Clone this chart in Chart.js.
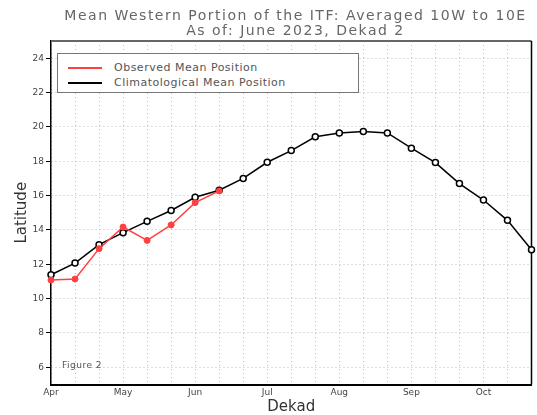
<!DOCTYPE html>
<html lang="en">
  <head>
    <meta charset="UTF-8">
    <title>ITF Western Portion</title>
    <style>
      body { margin: 0; background: #fff; }
      #wrap { position: relative; width: 537px; height: 415px; font-family: "DejaVu Sans", sans-serif; }
      canvas { position: absolute; left: 0; top: 0; }
      .title { position: absolute; left: 52px; width: 487px; text-align: center; color: #666; font-size: 14px; letter-spacing: 1.5px; line-height: 14px; white-space: nowrap; }
      #legend { position: absolute; left: 57px; top: 53px; width: 300px; height: 38px; border: 1px solid #777; background: #fff; z-index: 2; }
      .row { position: absolute; left: 0; height: 14px; font-size: 11px; color: #555; letter-spacing: 0.5px; line-height: 14px; white-space: nowrap; }
      .row span.sw { position: absolute; left: 10px; top: 6px; width: 34px; height: 2px; }
      .row span.tx { position: absolute; left: 56px; top: 0; }
      #fig { position: absolute; left: 62px; top: 360px; font-size: 9px; color: #555; letter-spacing: 0.5px; z-index: 2; }
    </style>
  </head>
  <body>
    <div id="wrap">
      <canvas id="myChart" width="537" height="415"></canvas>
      <div class="title" style="top:8px">Mean Western Portion of the ITF: Averaged 10W to 10E</div>
      <div class="title" style="top:23px">As of: June 2023, Dekad 2</div>
      <div id="legend"></div>
      <div id="fig">Figure 2</div>
    </div>

    <script src="https://cdn.jsdelivr.net/npm/chart.js"></script>
    <script>
      const dekads = [
        "Apr 1", "Apr 2", "Apr 3", "May 1", "May 2", "May 3", "Jun 1", "Jun 2", "Jun 3",
        "Jul 1", "Jul 2", "Jul 3", "Aug 1", "Aug 2", "Aug 3", "Sep 1", "Sep 2", "Sep 3",
        "Oct 1", "Oct 2", "Oct 3"
      ];
      const monthLabels = ["Apr", "May", "Jun", "Jul", "Aug", "Sep", "Oct"];
      const yTicks = [6, 8, 10, 12, 14, 16, 18, 20, 22, 24];

      const observed = [11.08, 11.14, 12.91, 14.17, 13.39, 14.29, 15.59, 16.27];
      const climatology = [
        11.39, 12.07, 13.14, 13.84, 14.5, 15.13, 15.9, 16.31, 17.0, 17.94, 18.62,
        19.42, 19.65, 19.73, 19.65, 18.76, 17.92, 16.7, 15.74, 14.56, 12.85
      ];

      const RED = "#ff4040";

      // top + right frame lines
      const framePlugin = {
        id: "frame",
        beforeDatasetsDraw(chart) {
          const { ctx, chartArea: a } = chart;
          ctx.save();
          ctx.lineWidth = 2;
          ctx.strokeStyle = "#666";
          ctx.beginPath();
          ctx.moveTo(a.left, a.top);
          ctx.lineTo(a.right, a.top);
          ctx.stroke();
          ctx.lineWidth = 1.5;
          ctx.strokeStyle = "#000";
          ctx.beginPath();
          ctx.moveTo(a.right, a.top);
          ctx.lineTo(a.right, a.bottom);
          ctx.stroke();
          ctx.restore();
        }
      };

      const chart = new Chart(document.getElementById("myChart"), {
        type: "line",
        data: {
          labels: dekads,
          datasets: [
            {
              label: "Observed Mean Position",
              data: observed,
              borderColor: RED,
              backgroundColor: RED,
              borderWidth: 1.5,
              pointRadius: 3,
              pointBorderWidth: 1,
              tension: 0,
              clip: false
            },
            {
              label: "Climatological Mean Position",
              data: climatology,
              borderColor: "#000",
              backgroundColor: "#fff",
              borderWidth: 1.5,
              pointRadius: 3,
              pointBorderWidth: 1.5,
              tension: 0,
              clip: false
            }
          ]
        },
        options: {
          responsive: false,
          animation: false,
          layout: { padding: { top: 41, right: 1, left: 0, bottom: 0 } },
          font: { family: "DejaVu Sans" },
          plugins: { legend: { display: false }, tooltip: { enabled: false } },
          scales: {
            x: {
              type: "category",
              offset: false,
              grid: { color: "#bdbdbd", drawTicks: false },
              border: { color: "#000", width: 2, dash: [1, 3] },
              ticks: {
                autoSkip: false,
                maxRotation: 0,
                padding: 3,
                color: "#444",
                font: { size: 9, family: "DejaVu Sans" },
                callback: function (value, index) {
                  return index % 3 === 0 ? monthLabels[index / 3] : "";
                }
              },
              title: {
                display: true,
                text: "Dekad",
                color: "#333",
                padding: 0,
                font: { size: 15, family: "DejaVu Sans", lineHeight: 1 }
              },
              afterFit: function (s) { s.height = 30.5; }
            },
            y: {
              min: 5,
              max: 25,
              afterBuildTicks: function (s) { s.ticks = yTicks.map(v => ({ value: v })); },
              grid: { color: "#bdbdbd", tickLength: 5, tickColor: "#000", tickBorderDash: [] },
              border: { color: "#000", width: 1.5, dash: [1, 3] },
              ticks: {
                padding: 2,
                color: "#444",
                font: { size: 9, family: "DejaVu Sans" }
              },
              title: {
                display: true,
                text: "Latitude",
                color: "#333",
                padding: { top: 15, bottom: 0 },
                font: { size: 15, family: "DejaVu Sans", lineHeight: 1 }
              },
              afterFit: function (s) { s.width = 51; }
            }
          }
        },
        plugins: [framePlugin]
      });

      // HTML legend built from the datasets
      const legend = document.getElementById("legend");
      chart.data.datasets.forEach((ds, i) => {
        const row = document.createElement("div");
        row.className = "row";
        row.style.top = (7 + i * 14.6) + "px";
        row.innerHTML = '<span class="sw" style="background:' + ds.borderColor + '"></span><span class="tx">' + ds.label + "</span>";
        legend.appendChild(row);
      });
    </script>
  </body>
</html>
